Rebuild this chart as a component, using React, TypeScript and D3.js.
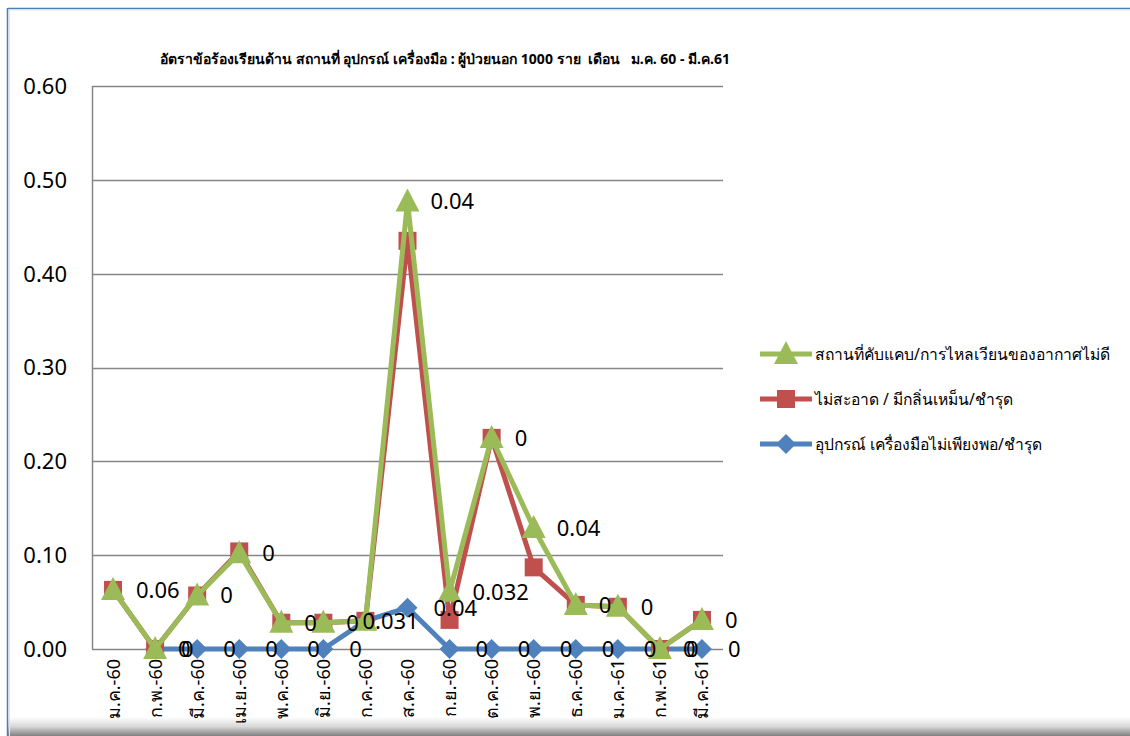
import React from "react";
import * as d3 from "d3";

const categories = ["ม.ค.-60","ก.พ.-60","มี.ค.-60","เม.ย.-60","พ.ค.-60","มิ.ย.-60","ก.ค.-60","ส.ค.-60","ก.ย.-60","ต.ค.-60","พ.ย.-60","ธ.ค.-60","ม.ค.-61","ก.พ.-61","มี.ค.-61"];

const seriesNames = [
  "สถานที่คับแคบ/การไหลเวียนของอากาศไม่ดี",
  "ไม่สะอาด / มีกลิ่นเหม็น/ชำรุด",
  "อุปกรณ์ เครื่องมือไม่เพียงพอ/ชำรุด",
];

const greenValues: (number | null)[] = [0.063,0,0.057,0.102,0.028,0.028,0.030,0.477,0.061,0.225,0.129,0.047,0.045,0,0.031];
const redValues: (number | null)[] = [0.063,0,0.057,0.104,0.028,0.028,0.030,0.435,0.031,0.225,0.087,0.047,0.045,0,0.031];
const blueValues: (number | null)[] = [null,0,0,0,0,0,0.030,0.044,0,0,0,0,0,0,0];

const greenLabels: (string | null)[] = ["0.06","0","0","0","0","0","0.031","0.04","0.032","0","0.04","0","0","0","0"];
const redLabels: (string | null)[] = [null,null,null,null,null,null,null,null,null,null,null,null,null,null,null];
const blueLabels: (string | null)[] = [null,"0","0","0","0","0",null,"0.04","0","0","0","0","0","0","0"];

const yTicks = [0, 0.1, 0.2, 0.3, 0.4, 0.5, 0.6];

const title = "อัตราข้อร้องเรียนด้าน สถานที่ อุปกรณ์ เครื่องมือ : ผู้ป่วยนอก 1000 ราย  เดือน   ม.ค. 60 - มี.ค.61";

const W = 1130, H = 736;
const PL = 92, PR = 723, PT = 86, PB = 649;
const FONT = "'Noto Sans', 'DejaVu Sans', sans-serif";

const x = d3.scaleBand<string>().domain(categories).range([PL, PR]);
const cx = (c: string) => (x(c) as number) + x.bandwidth() / 2;
const y = d3.scaleLinear().domain([0, 0.6]).range([PB, PT]);

type S = { name: string; values: (number | null)[]; labels: (string | null)[]; color: string; marker: string; labelDx: number };
const series: S[] = [
  { name: seriesNames[2], values: blueValues, labels: blueLabels, color: "#4F81BD", marker: "diamond", labelDx: 26 },
  { name: seriesNames[1], values: redValues, labels: redLabels, color: "#C0504D", marker: "square", labelDx: 23 },
  { name: seriesNames[0], values: greenValues, labels: greenLabels, color: "#9BBB59", marker: "triangle", labelDx: 23 },
];
// label nudges for overlapping labels (layout only)
const labelNudge: Record<string, number> = { "2-6": -26 };

function Marker({ kind, x0, y0, color }: { kind: string; x0: number; y0: number; color: string }) {
  if (kind === "square") return <rect x={x0 - 9} y={y0 - 9} width={18} height={18} fill={color} />;
  if (kind === "diamond") return <path d={`M${x0},${y0 - 10}L${x0 + 10},${y0}L${x0},${y0 + 10}L${x0 - 10},${y0}Z`} fill={color} />;
  return <path d={`M${x0},${y0 - 13}L${x0 + 12},${y0 + 10}L${x0 - 12},${y0 + 10}Z`} fill={color} />;
}

export default function App() {
  const line = d3.line<number | null>()
    .defined((d) => d !== null)
    .x((_, i) => cx(categories[i]))
    .y((d) => y(d as number));

  const legendOrder = [series[2], series[1], series[0]];

  return (
    <svg width={W} height={H} style={{ position: "absolute", left: 0, top: 0, background: "#fff" }} fontFamily={FONT}>
      <defs>
        <linearGradient id="bshadow" x1="0" y1="0" x2="0" y2="1">
          <stop offset="0" stopColor="#ffffff" />
          <stop offset="0.5" stopColor="#d8d8d8" />
          <stop offset="1" stopColor="#808080" />
        </linearGradient>
      </defs>
      <rect x={0} y={0} width={W} height={H} fill="#fff" />
      {/* frame */}
      <rect x={8} y={717} width={W - 8} height={19} fill="url(#bshadow)" />
      <line x1={8} x2={W} y1={8.5} y2={8.5} stroke="#4A7EBB" strokeWidth={1.5} />
      <line x1={8} x2={W} y1={10} y2={10} stroke="#DCE6F2" strokeWidth={1} />
      <line x1={7.5} x2={7.5} y1={8} y2={H} stroke="#4A7EBB" strokeWidth={1.5} />
      <line x1={9.5} x2={9.5} y1={10} y2={H} stroke="#DCE6F2" strokeWidth={1} />

      <text x={445} y={64} textAnchor="middle" fontSize={14} fontWeight="bold" style={{ whiteSpace: "pre" }}>{title}</text>

      {/* gridlines */}
      {yTicks.map((t) => (
        <line key={t} x1={PL} x2={PR} y1={Math.round(y(t)) + 0.5} y2={Math.round(y(t)) + 0.5} stroke="#868686" strokeWidth={1.5} />
      ))}
      <line x1={PL + 0.5} x2={PL + 0.5} y1={PT} y2={PB} stroke="#868686" strokeWidth={1.5} />

      {yTicks.map((t) => (
        <text key={t} x={67} y={y(t)} dy="0.36em" textAnchor="end" fontSize={22}>{d3.format(".2f")(t)}</text>
      ))}

      {categories.map((c) => (
        <text key={c} transform={`translate(${cx(c)},${PB + 10}) rotate(-90)`} textAnchor="end" dy="0.36em" fontSize={18}>{c}</text>
      ))}

      {series.map((s) => (
        <g key={s.name}>
          <path d={line(s.values) || ""} fill="none" stroke={s.color} strokeWidth={5} strokeLinejoin="round" />
          {s.values.map((v, i) => v === null ? null : (
            <Marker key={i} kind={s.marker} x0={cx(categories[i])} y0={y(v)} color={s.color} />
          ))}
        </g>
      ))}

      {series.map((s, si) => (
        <g key={"l" + s.name}>
          {s.labels.map((l, i) => (l === null || s.values[i] === null) ? null : (
            <text key={i} x={cx(categories[i]) + s.labelDx + (labelNudge[`${si}-${i}`] || 0)} y={y(s.values[i] as number)} dy="0.36em" fontSize={22}>{l}</text>
          ))}
        </g>
      ))}

      {legendOrder.map((s, i) => {
        const ly = 354 + i * 45;
        return (
          <g key={"lg" + s.name}>
            <line x1={760} x2={812} y1={ly} y2={ly} stroke={s.color} strokeWidth={5} />
            <Marker kind={s.marker} x0={786} y0={ly} color={s.color} />
            <text x={815} y={ly} dy="0.36em" fontSize={15.7}>{s.name}</text>
          </g>
        );
      })}
    </svg>
  );
}
